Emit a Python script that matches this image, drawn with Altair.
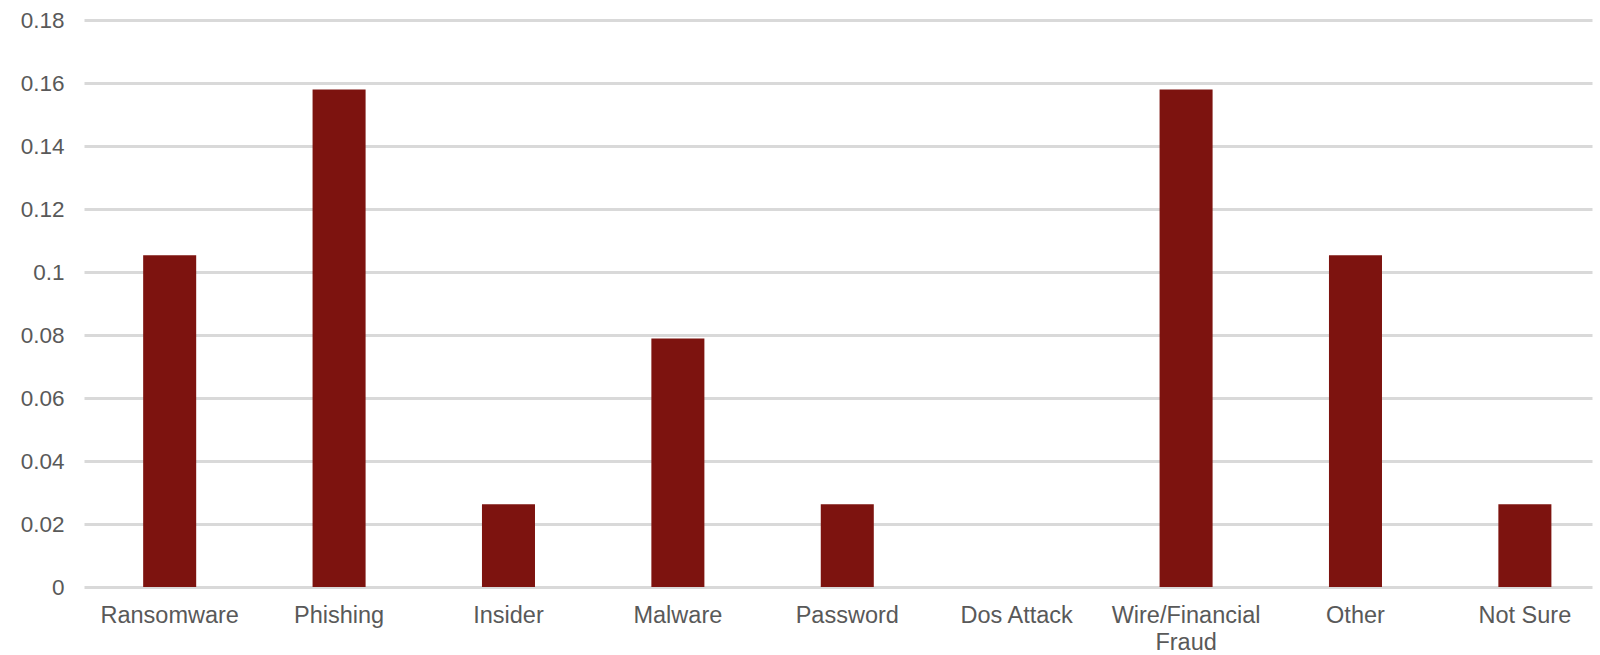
import altair as alt
import pandas as pd

categories = ["Ransomware", "Phishing", "Insider", "Malware", "Password",
              "Dos Attack", "Wire/Financial Fraud", "Other", "Not Sure"]
values = [0.1053, 0.1579, 0.0263, 0.0789, 0.0263, 0.0, 0.1579, 0.1053, 0.0263]
y_ticks = [0, 0.02, 0.04, 0.06, 0.08, 0.1, 0.12, 0.14, 0.16, 0.18]

df = pd.DataFrame({"category": categories, "value": values})

FONT = "Liberation Sans"
GRAY = "#595959"

chart = alt.Chart(df).mark_bar(color="#7d130f").encode(
    x=alt.X("category:N", sort=categories,
            scale=alt.Scale(paddingInner=0.687, paddingOuter=0.2945, align=0.593),
            axis=alt.Axis(title=None, labelAngle=0, domain=False, ticks=False, grid=False,
                          labelFont=FONT, labelFontSize=23.5, labelColor=GRAY,
                          labelPadding=16, labelLineHeight=27,
                          labelExpr="datum.label == 'Wire/Financial Fraud' ? ['Wire/Financial', 'Fraud'] : datum.label")),
    y=alt.Y("value:Q",
            scale=alt.Scale(domain=[0, 0.18], nice=False),
            axis=alt.Axis(title=None, values=y_ticks, format=".2~f",
                          domain=False, ticks=False,
                          labelFont=FONT, labelFontSize=22.5, labelColor=GRAY,
                          labelPadding=20,
                          gridColor="#d9d9d9", gridWidth=3)),
).properties(
    width=1508, height=567,
    background="white",
    autosize=alt.AutoSizeParams(type="none"),
    padding={"left": 84, "top": 20, "right": 8, "bottom": 68},
).configure_view(strokeWidth=0)

chart.save("out.html", embed_options={"renderer": "svg", "actions": False})
